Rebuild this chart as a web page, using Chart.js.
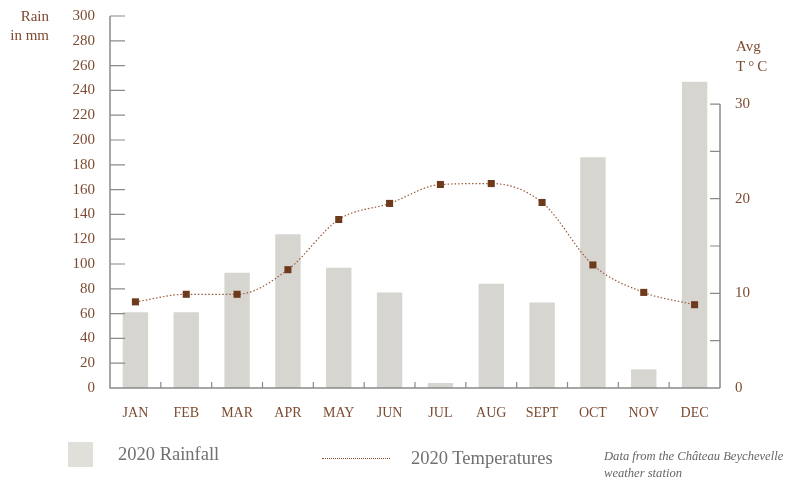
<!DOCTYPE html>
<html>
<head>
<meta charset="utf-8">
<script src="https://cdn.jsdelivr.net/npm/chart.js@4"></script>
<style>
    body { margin: 0; background: #fff; }
    .wrap { position: relative; width: 787px; height: 479px; font-family: "Liberation Serif", serif; }
    canvas { position: absolute; left: 0; top: 0; }
    .lbl { position: absolute; color: #7d4b31; font-size: 15px; line-height: 19px; }
    .leg { position: absolute; color: #707070; font-size: 18.5px; }
    .note { position: absolute; color: #666; font-size: 12.6px; font-style: italic; line-height: 17px; }
</style>
</head>
<body>
<div class="wrap">
    <canvas id="rainChart" width="787" height="479"></canvas>
    <div class="lbl" style="right:738px; top:7px; text-align:right;">Rain<br>in mm</div>
    <div class="lbl" style="left:736px; top:36px; line-height:20px;">Avg<br>T&thinsp;°&thinsp;C</div>
    <div style="position:absolute; left:68px; top:442px; width:25px; height:25px; background:#e0dfda;"></div>
    <div class="leg" style="left:118px; top:444px;">2020 Rainfall</div>
    <div style="position:absolute; left:322px; top:458px; width:68px; border-top:1px dotted #8a4a2a;"></div>
    <div class="leg" style="left:411px; top:448px;">2020 Temperatures</div>
    <div class="note" style="left:604px; top:448px;">Data from the Château Beychevelle<br>weather station</div>
</div>
<script>
// Data
const months = ['JAN', 'FEB', 'MAR', 'APR', 'MAY', 'JUN', 'JUL', 'AUG', 'SEPT', 'OCT', 'NOV', 'DEC'];
const rainfall = [61, 61, 93, 124, 97, 77, 4, 84, 69, 186, 15, 247];
const temperatures = [9.1, 9.9, 9.9, 12.5, 17.8, 19.5, 21.5, 21.6, 19.6, 13.0, 10.1, 8.8];
const rainTicks = [0, 20, 40, 60, 80, 100, 120, 140, 160, 180, 200, 220, 240, 260, 280, 300];
const tempTicks = [0, 5, 10, 15, 20, 25, 30];

const brown = '#7d4b31';
const axisGrey = '#8a8a8a';

// Axis lines and inward tick marks
const axisPlugin = {
    id: 'axisPlugin',
    afterDatasetsDraw(chart) {
        const ctx = chart.ctx;
        const area = chart.chartArea;
        const y = chart.scales.y;
        const t = chart.scales.t;
        const x = chart.scales.x;
        ctx.save();
        ctx.strokeStyle = axisGrey;
        ctx.lineWidth = 1.5;
        ctx.beginPath();
        ctx.moveTo(area.left, area.top);
        ctx.lineTo(area.left, area.bottom);
        ctx.lineTo(area.right, area.bottom);
        ctx.moveTo(area.right, area.bottom);
        ctx.lineTo(area.right, t.getPixelForValue(30));
        ctx.stroke();

        ctx.lineWidth = 1.2;
        ctx.beginPath();
        rainTicks.forEach(v => {
            if (v === 0) return;
            const py = y.getPixelForValue(v);
            ctx.moveTo(area.left, py);
            ctx.lineTo(area.left + 15, py);
        });
        tempTicks.forEach(v => {
            if (v === 0) return;
            const py = t.getPixelForValue(v);
            ctx.moveTo(area.right, py);
            ctx.lineTo(area.right - 10, py);
        });
        for (let i = 0; i < months.length - 1; i++) {
            const px = (x.getPixelForValue(i) + x.getPixelForValue(i + 1)) / 2;
            ctx.moveTo(px, area.bottom);
            ctx.lineTo(px, area.bottom - 6);
        }
        ctx.stroke();
        ctx.restore();
    }
};

// keep the plot box fixed, labels may overflow it
function fixWidth(w) {
    return function(scale) {
        scale.width = w;
        scale.paddingTop = 0;
        scale.paddingBottom = 0;
    };
}

const chartCtx = document.getElementById('rainChart').getContext('2d');
new Chart(chartCtx, {
    data: {
        labels: months,
        datasets: [
            {
                type: 'line',
                label: '2020 Temperatures',
                data: temperatures,
                yAxisID: 't',
                borderColor: '#9a5a3a',
                borderWidth: 1.2,
                borderDash: [1.5, 2],
                cubicInterpolationMode: 'monotone',
                pointStyle: 'rect',
                pointRadius: 5,
                pointBorderWidth: 0,
                pointBackgroundColor: '#6e3a1c',
                order: 0
            },
            {
                type: 'bar',
                label: '2020 Rainfall',
                data: rainfall,
                yAxisID: 'y',
                backgroundColor: '#d6d5d0',
                barPercentage: 0.5,
                categoryPercentage: 1,
                order: 1
            }
        ]
    },
    options: {
        responsive: false,
        animation: false,
        layout: { padding: { top: 16, left: 0, right: 0, bottom: 0 } },
        plugins: {
            legend: { display: false },
            tooltip: { enabled: false }
        },
        scales: {
            x: {
                grid: { display: false, drawTicks: false },
                border: { display: false },
                ticks: {
                    color: brown,
                    padding: 17,
                    font: { family: 'Liberation Serif', size: 14 }
                },
                afterFit(scale) {
                    scale.height = 91;
                    scale.paddingLeft = 0;
                    scale.paddingRight = 0;
                }
            },
            y: {
                position: 'left',
                min: 0,
                max: 300,
                grid: { display: false, drawTicks: false },
                border: { display: false },
                afterBuildTicks(scale) { scale.ticks = rainTicks.map(v => ({ value: v })); },
                ticks: {
                    color: brown,
                    padding: 15,
                    font: { family: 'Liberation Serif', size: 15 }
                },
                afterFit: fixWidth(110)
            },
            t: {
                position: 'right',
                min: 0,
                max: 39.3,
                grid: { display: false, drawTicks: false },
                border: { display: false },
                afterBuildTicks(scale) { scale.ticks = tempTicks.map(v => ({ value: v })); },
                ticks: {
                    color: brown,
                    padding: 15,
                    font: { family: 'Liberation Serif', size: 15 },
                    callback: v => (v % 10 === 0 ? v : '')
                },
                afterFit: fixWidth(67)
            }
        }
    },
    plugins: [axisPlugin]
});
</script>
</body>
</html>
